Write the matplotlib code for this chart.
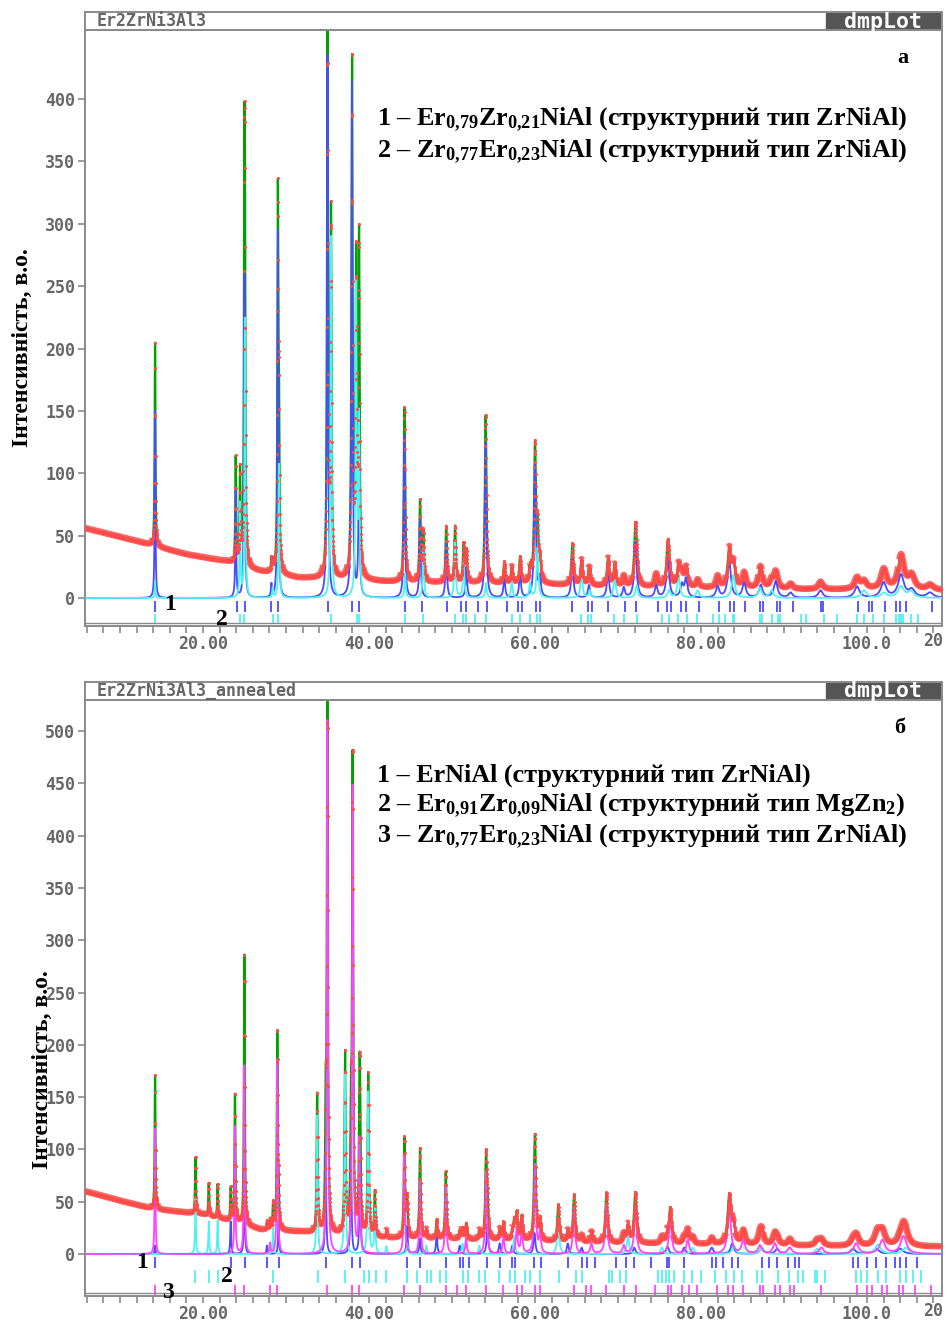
import numpy as np
import matplotlib
matplotlib.use('Agg')
import matplotlib.pyplot as plt
from matplotlib.ticker import MultipleLocator
from matplotlib.patches import Rectangle

plt.rcParams['mathtext.fontset'] = 'custom'
plt.rcParams['mathtext.rm'] = 'Liberation Serif:bold'
plt.rcParams['mathtext.it'] = 'Liberation Serif:bold'
plt.rcParams['mathtext.bf'] = 'Liberation Serif:bold'
plt.rcParams['mathtext.default'] = 'rm'

# ---- panel a: Er2ZrNi3Al3 ----
top_bg_x = [5.8, 10, 14, 18, 23, 24.5, 27, 31.5, 42, 50, 60, 70, 80, 90, 100, 109.2]
top_bg_y = [56, 49, 42, 35, 29, 25, 21, 16, 13, 12, 11, 9, 8, 7, 6.5, 6]

top_blue_pos = [14.22, 23.94, 24.98, 28.24, 29.02, 35.0, 37.95, 38.8, 44.26, 46.15, 49.3, 51.73,
                54.05, 56.3, 58.2, 60.0, 60.6, 64.5, 66.5, 68.8, 70.7, 72.1, 74.6, 76.0, 77.7,
                78.2, 82.0, 83.4, 85.2, 87.2, 89.0, 90.8, 94.4, 98.8, 102.0, 104.1, 105.4, 107.6]
top_blue_h = [150, 85, 260, 10, 295, 435, 420, 130, 130, 65, 45, 25,
              125, 17, 21, 108, 15, 33, 10, 22, 8, 46, 10, 34, 10,
              15, 9, 30, 12, 10, 13, 4, 6, 9, 12, 18, 6, 4]

top_cyan_pos = [14.22, 24.46, 25.05, 28.4, 29.15, 35.42, 38.45, 38.8, 44.35, 46.55, 50.36, 51.4,
                54.1, 57.2, 59.4, 60.3, 65.6, 66.6, 69.6, 72.25, 76.15, 77.3, 79.6, 83.9, 87.1,
                88.5, 99.65, 102.05, 104.1, 105.3]
top_cyan_h = [13, 75, 230, 8, 110, 290, 253, 140, 20, 40, 45, 30,
              12, 13, 12, 40, 20, 6, 17, 10, 6, 17, 6, 18, 8,
              6, 6, 4, 9, 5]

top_blue_ticks = [14.22, 24.10, 25.03, 28.24, 29.04, 35.05, 38.0, 38.78, 44.39, 46.39, 49.40, 51.13,
                  51.73, 53.14, 54.27, 56.61, 57.94, 58.48, 60.14, 60.61, 64.48, 66.42, 66.82, 68.82,
                  70.82, 72.16, 74.83, 75.96, 76.43, 77.63, 78.17, 79.77, 82.17, 83.51, 83.97, 85.31,
                  87.11, 87.51, 89.11, 89.51, 91.12, 94.45, 94.65, 98.86, 100.19, 100.66, 102.2,
                  103.53, 104.0, 104.67, 107.8]
top_cyan_ticks = [14.22, 24.46, 24.98, 28.4, 29.08, 35.42, 38.5, 38.8, 44.3, 46.55, 50.36, 51.37,
                  51.69, 52.77, 54.1, 57.2, 58.2, 59.4, 60.28, 60.6, 65.54, 66.4, 66.7, 69.5, 70.7,
                  72.25, 75.34, 76.15, 77.27, 78.35, 79.56, 81.5, 82.2, 82.9, 83.8, 84.0, 87.1,
                  87.3, 88.5, 89.3, 89.5, 92.1, 92.6, 94.8, 96.35, 98.76, 99.65, 100.7, 102.05,
                  103.45, 103.8, 104.1, 104.4, 105.3, 106.2]

# ---- panel б: Er2ZrNi3Al3_annealed ----
bot_bg_x = [5.8, 10, 14, 20, 24, 27, 32, 34, 42, 50, 60, 70, 80, 90, 100, 109.2]
bot_bg_y = [60, 51, 43, 38, 30, 23, 21, 19, 15, 14, 12, 10, 9, 8, 7, 7]

bot_blue_pos = [14.22, 23.33, 24.98, 27.7, 29.1, 34.78, 37.83, 38.92, 44.59, 46.13, 48.15, 50.93,
                54.27, 55.74, 57.27, 59.94, 63.95, 65.62, 71.96, 75.96, 77.97, 81.3, 83.77, 87.31,
                89.18, 98.32, 101.13, 104.0]
bot_blue_h = [8, 32, 78, 8, 32, 100, 100, 95, 27, 15, 18, 8,
              29, 10, 8, 20, 10, 6, 6, 7, 6, 6, 10, 6,
              5, 5, 5, 5]

bot_cyan_pos = [19.09, 20.69, 21.76, 28.44, 33.75, 37.11, 39.9, 40.7, 42.1, 44.6, 46.9, 51.27,
                53.3, 57.5, 62.8, 71.2, 75.3, 79.0, 83.97, 87.3, 94.0, 101.33, 104.67]
bot_cyan_h = [55, 32, 32, 25, 135, 175, 155, 43, 7, 10, 8, 10,
              8, 17, 35, 17, 6, 6, 8, 6, 5, 9, 6]

bot_mag_pos = [14.22, 23.85, 24.98, 28.07, 28.95, 34.98, 38.03, 38.85, 44.26, 46.15, 49.25, 51.7,
               54.1, 56.2, 57.8, 58.4, 60.0, 60.6, 64.7, 66.8, 68.6, 70.7, 72.1, 76.3, 78.4,
               83.4, 85.1, 87.1, 88.9, 90.7, 94.5, 98.7, 101.85, 104.4]
bot_mag_h = [120, 125, 180, 10, 190, 510, 455, 110, 95, 72, 65, 15,
             78, 17, 25, 23, 85, 20, 45, 10, 48, 8, 45, 33, 13,
             45, 13, 8, 10, 6, 6, 10, 13, 17]

bot_blue_ticks = [14.22, 23.37, 25.03, 27.7, 29.1, 34.78, 37.92, 38.92, 44.59, 46.13, 49.26, 50.93,
                  51.27, 52.07, 54.27, 55.74, 57.27, 57.61, 59.94, 60.74, 63.95, 65.62, 66.29,
                  67.29, 69.82, 70.96, 71.96, 73.96, 75.96, 76.16, 77.97, 81.3, 81.84, 82.64, 83.77,
                  84.44, 87.31, 88.18, 89.18, 90.45, 91.32, 91.78, 98.32, 98.86, 99.99, 101.13,
                  102.33, 103.33, 104.0, 104.67, 106.0]
bot_cyan_ticks = [19.09, 20.69, 21.76, 28.44, 33.91, 37.11, 39.38, 40.05, 40.79, 42.05, 44.59,
                  45.73, 46.93, 47.46, 48.6, 49.26, 51.27, 51.94, 53.27, 53.94, 55.61, 56.94, 57.61,
                  58.74, 59.41, 60.61, 62.95, 64.95, 65.62, 68.96, 69.29, 70.29, 70.96, 74.83, 75.3,
                  75.83, 76.16, 76.76, 77.97, 78.97, 79.97, 81.64, 82.97, 83.97, 84.98, 86.78, 87.31,
                  89.31, 90.65, 91.65, 92.32, 93.79, 93.99, 94.99, 98.66, 99.33, 99.99, 101.33,
                  102.33, 104.0, 104.67, 105.54, 106.54]
bot_mag_ticks = [14.22, 23.85, 24.98, 28.07, 28.88, 34.9, 37.9, 38.8, 44.26, 46.15, 49.25, 50.64,
                 51.69, 54.1, 56.19, 57.79, 58.4, 60.0, 60.6, 64.7, 66.2, 66.8, 68.6, 70.7, 72.2,
                 74.5, 76.0, 76.35, 77.75, 78.5, 79.56, 81.97, 83.3, 83.9, 85.1, 87.1, 87.5, 88.9,
                 89.5, 90.7, 91.2, 94.5, 98.76, 99.96, 100.56, 101.85, 102.4, 103.8, 104.4, 105.8,
                 107.67]

RED = '#ff4a4a'
GREEN = '#00a000'
BLUE = '#4a4aff'
CYAN = '#4ef2f2'
MAGENTA = '#ff44ff'
GREY = '#666666'
FRAME = '#8a8a8a'

W, H = 947, 1322
fig = plt.figure(figsize=(W / 100, H / 100), dpi=100)
fig.patch.set_facecolor('white')

X0, X1 = 5.78, 109.04
tt = np.arange(X0, X1 + 0.01, 0.02)


def fwhm(p):
    return 0.1 + 0.45 * np.tan(np.radians(p / 2)) ** 2


def peak_sum(x, pos, hts):
    y = np.zeros_like(x)
    for p, h in zip(pos, hts):
        hw = fwhm(p) / 2
        y += h / (1 + ((x - p) / hw) ** 2)
    return y


mono = dict(family='DejaVu Sans Mono', weight='bold', color=GREY)
serif = dict(family='Liberation Serif', weight='bold', color='black')


def panel(py_top, py_bot, y_zero, y_per_px, title, bg_x, bg_y, phases, tick_rows,
          ymax_tick, letter, letter_xy, legend, legend_y, num_labels, ylab_xy):
    ylo = (y_zero - py_bot) / y_per_px
    yhi = (y_zero - py_top) / y_per_px
    ax = fig.add_axes([85 / W, 1 - py_bot / H, 857 / W, (py_bot - py_top) / H])
    ax.set_xlim(X0, X1)
    ax.set_ylim(ylo, yhi)

    bg = np.interp(tt, bg_x, bg_y)
    curves = [peak_sum(tt, pos, h) for pos, h, c in phases]
    calc = bg + sum(curves)
    # observed scatter band: wide where the profile is flat, thin dots on the peak flanks
    band = np.where(np.abs(np.gradient(calc, tt)) < 40, calc, np.nan)
    ax.plot(tt, band, color=RED, lw=4.8, alpha=0.85, zorder=1, solid_capstyle='butt')
    ax.plot(tt, calc, color=GREEN, lw=1.6, zorder=2)
    for (pos, h, c), cv in zip(phases, curves):
        ax.plot(tt, cv, color=c, lw=1.3, zorder=3)
    ax.plot(tt, calc, ls='none', marker='o', ms=2.2, mew=0, color=RED, zorder=5)

    for ticks, c, y0, y1 in tick_rows:
        ax.vlines(ticks, y0, y1, color=c, lw=1.3, zorder=3)

    ax.axhline(ylo + 3 / y_per_px, color=FRAME, lw=1.0, zorder=6)
    for s in ax.spines.values():
        s.set_color(FRAME)
        s.set_linewidth(1.4)

    ax.set_xticks([20, 40, 60, 80, 100])
    ax.set_xticklabels(['20.00', '40.00', '60.00', '80.00', '100.0'])
    ax.xaxis.set_minor_locator(MultipleLocator(2))
    ax.set_yticks(np.arange(0, ymax_tick + 1, 50))
    ax.tick_params(axis='both', which='both', direction='out', color=FRAME, width=1.2)
    ax.tick_params(axis='x', which='both', length=5, pad=1.5)
    ax.tick_params(axis='y', length=5, pad=2)
    for lab in ax.get_xticklabels() + ax.get_yticklabels():
        lab.set_fontfamily('DejaVu Sans Mono')
        lab.set_fontweight('bold')
        lab.set_fontsize(12)
        lab.set_color(GREY)
    fig.text(923 / W, 1 - (py_bot + 15) / H, '20', ha='left', va='center', fontsize=12, **mono)

    # header bar
    hd = fig.add_axes([85 / W, 1 - py_top / H, 857 / W, 18 / H])
    hd.set_xlim(0, 857)
    hd.set_ylim(0, 18)
    hd.set_xticks([])
    hd.set_yticks([])
    for s in hd.spines.values():
        s.set_color(FRAME)
        s.set_linewidth(1.4)
    hd.text(12, 9, title, ha='left', va='center', fontsize=12, **mono)
    hd.add_patch(Rectangle((741, 1.0), 114, 16, color='#555555'))
    hd.text(798, 8.5, 'dmpLot', ha='center', va='center', fontsize=15.5,
            family='DejaVu Sans Mono', weight='bold', color='white')

    fig.text(letter_xy[0] / W, 1 - letter_xy[1] / H, letter, ha='center', va='center',
             fontsize=16, **serif)
    for i, line in enumerate(legend):
        fig.text(377 / W, 1 - legend_y[i] / H, line, ha='left', va='center', fontsize=18.8, **serif)
    for t, x, y in num_labels:
        fig.text(x / W, 1 - y / H, t, ha='center', va='center', fontsize=17, **serif)
    fig.text(ylab_xy[0] / W, 1 - ylab_xy[1] / H, 'Інтенсивність, в.о.', rotation=90,
             ha='center', va='center', fontsize=17, **serif)
    return ax


panel(30, 626, 598, 1.2475, 'Er2ZrNi3Al3', top_bg_x, top_bg_y,
      [(top_blue_pos, top_blue_h, BLUE), (top_cyan_pos, top_cyan_h, CYAN)],
      [(top_blue_ticks, BLUE, -2.4, -11.2), (top_cyan_ticks, CYAN, -12.5, -21.0)],
      400, 'а', (903, 58),
      [r'1 – Er$_{0{,}79}$Zr$_{0{,}21}$NiAl (структурний тип ZrNiAl)',
       r'2 – Zr$_{0{,}77}$Er$_{0{,}23}$NiAl (структурний тип ZrNiAl)'],
      [120, 152],
      [('1', 170, 605), ('2', 222, 620)], (22, 348))

panel(700, 1296, 1254, 1.046, 'Er2ZrNi3Al3_annealed', bot_bg_x, bot_bg_y,
      [(bot_blue_pos, bot_blue_h, BLUE), (bot_cyan_pos, bot_cyan_h, CYAN),
       (bot_mag_pos, bot_mag_h, MAGENTA)],
      [(bot_blue_ticks, BLUE, -3.0, -13.4), (bot_cyan_ticks, CYAN, -15.3, -27.7),
       (bot_mag_ticks, MAGENTA, -29.6, -39.0)],
      500, 'б', (900, 728),
      [r'1 – ErNiAl (структурний тип ZrNiAl)',
       r'2 – Er$_{0{,}91}$Zr$_{0{,}09}$NiAl (структурний тип MgZn$_2$)',
       r'3 – Zr$_{0{,}77}$Er$_{0{,}23}$NiAl (структурний тип ZrNiAl)'],
      [775, 806, 837],
      [('1', 142, 1262), ('2', 227, 1277), ('3', 168, 1292)], (42, 1070))

fig.savefig('out.png', dpi=100, facecolor='white')
